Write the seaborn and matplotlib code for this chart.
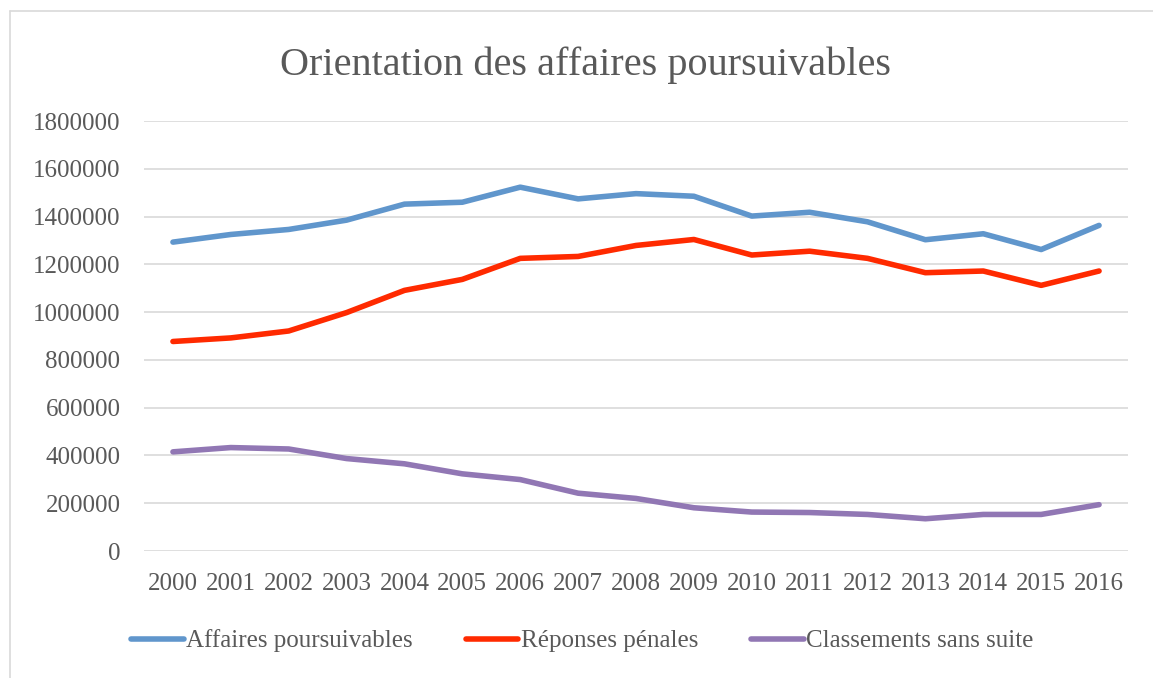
import pandas as pd
import matplotlib
matplotlib.use("Agg")
import matplotlib.pyplot as plt
import seaborn as sns

# valeurs
annees = list(range(2000, 2017))
affaires_poursuivables = [1293000, 1325000, 1346000, 1385000, 1452000, 1460000, 1523000,
                          1474000, 1496000, 1485000, 1402000, 1418000, 1378000, 1303000,
                          1328000, 1262000, 1363000]
reponses_penales = [877000, 892000, 921000, 998000, 1091000, 1137000, 1225000,
                    1233000, 1279000, 1304000, 1239000, 1255000, 1225000, 1165000,
                    1172000, 1112000, 1172000]
classements_sans_suite = [415000, 433000, 427000, 387000, 365000, 323000, 299000,
                          242000, 220000, 181000, 163000, 161000, 153000, 135000,
                          153000, 153000, 194000]
series = ["Affaires poursuivables", "Réponses pénales", "Classements sans suite"]
couleurs = ["#6096CC", "#FF2A00", "#9177B4"]

df = pd.DataFrame({
    "annee": annees * 3,
    "valeur": affaires_poursuivables + reponses_penales + classements_sans_suite,
    "serie": [series[0]] * 17 + [series[1]] * 17 + [series[2]] * 17,
})

sns.set_style("white")
plt.rcParams["font.family"] = ["Liberation Serif", "DejaVu Serif"]
gris = "#595959"

fig = plt.figure(figsize=(11.53, 6.78), dpi=100)
ax = fig.add_axes([144 / 1153, 1 - 551 / 678, (1128 - 144) / 1153, (551 - 121) / 678])

sns.lineplot(data=df, x="annee", y="valeur", hue="serie", palette=couleurs,
             linewidth=4, ax=ax, solid_capstyle="round", solid_joinstyle="round",
             legend=False)

ax.set_xlim(1999.5, 2016.5)
ax.set_ylim(0, 1800000)
ax.set_xticks(annees)
ax.set_yticks(range(0, 1800001, 200000))
ax.set_yticklabels([str(v) for v in range(0, 1800001, 200000)])
ax.tick_params(axis="both", length=0, labelsize=18, colors=gris)
ax.tick_params(axis="x", pad=16)
ax.tick_params(axis="y", pad=17)
ax.set_xlabel("")
ax.set_ylabel("")
ax.yaxis.grid(True, color="#D9D9D9", linewidth=1.2)
ax.set_axisbelow(True)
for s in ax.spines.values():
    s.set_visible(False)

fig.text(586 / 1153, 1 - 65 / 678, "Orientation des affaires poursuivables",
         ha="center", va="center", fontsize=29, color=gris)

handles = [plt.Line2D([], [], color=c, linewidth=4, solid_capstyle="round") for c in couleurs]
leg = fig.legend(handles, series, loc="center left", bbox_to_anchor=(131 / 1153, 1 - 641 / 678),
                 ncol=3, frameon=False, fontsize=18, handlelength=2.1,
                 handletextpad=0.12, columnspacing=2.1, borderpad=0, borderaxespad=0)
for t in leg.get_texts():
    t.set_color(gris)

# cadre du graphique (bords gauche et haut)
fig.add_artist(plt.Line2D([10 / 1153, 10 / 1153], [0, 1 - 11 / 678], color="#D9D9D9",
                          linewidth=1.2, transform=fig.transFigure))
fig.add_artist(plt.Line2D([10 / 1153, 1], [1 - 11 / 678, 1 - 11 / 678], color="#D9D9D9",
                          linewidth=1.2, transform=fig.transFigure))

fig.savefig("out.png", dpi=100)
